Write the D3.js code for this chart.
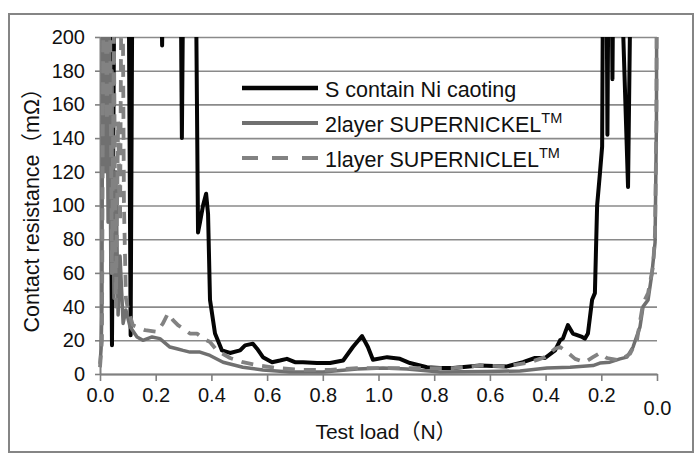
<!DOCTYPE html>
<html>
<head>
<meta charset="utf-8">
<script src="https://cdn.jsdelivr.net/npm/d3@7"></script>
<style>
  body { margin: 0; background: #fff; }
  text { font-family: "Liberation Sans", Arial, "Noto Sans CJK JP", sans-serif; fill: #111; }
</style>
</head>
<body>
<div id="chart"></div>
<script>
// x runs over one load/unload cycle: 0 -> 1 is loading up to 1.0 N, 1 -> 2 unloading back to 0
const xTicks = [0, 0.2, 0.4, 0.6, 0.8, 1.0, 1.2, 1.4, 1.6, 1.8, 2.0];
const xTickLabels = ["0.0", "0.2", "0.4", "0.6", "0.8", "1.0", "0.8", "0.6", "0.4", "0.2", "0.0"];
const yTicks = [0, 20, 40, 60, 80, 100, 120, 140, 160, 180, 200];

const seriesNames = ["S contain Ni caoting", "2layer SUPERNICKEL", "1layer SUPERNICLEL"];

// S contain Ni coating (values above 200 run off the top of the plot)
const niCycle = [0, 0.032, 0.043, 0.054, 0.101, 0.110, 0.118, 0.215, 0.223, 0.230, 0.287, 0.294, 0.302,
  0.341, 0.352, 0.359, 0.370, 0.381, 0.388, 0.395, 0.413, 0.438, 0.467, 0.503, 0.521, 0.549, 0.564,
  0.585, 0.618, 0.646, 0.671, 0.700, 0.729, 0.779, 0.826, 0.873, 0.908, 0.941, 0.962, 0.980, 1.031,
  1.077, 1.113, 1.174, 1.221, 1.268, 1.364, 1.461, 1.519, 1.562, 1.598, 1.634, 1.652, 1.662, 1.680,
  1.698, 1.731, 1.741, 1.752, 1.767, 1.777, 1.785, 1.795, 1.803, 1.808, 1.817, 1.822, 1.828, 1.835,
  1.840, 1.846, 1.860, 1.896, 1.910, 2.0];
const niRes = [300, 300, 17, 300, 300, 23, 300, 300, 195, 300, 300, 140, 300,
  300, 84, 90, 100, 107, 95, 44, 24, 14, 12.5, 14, 17, 18, 15,
  10, 7, 8, 9, 7, 7, 6.5, 6.5, 8, 16, 22.5, 16, 8.5, 10,
  9, 6.5, 4, 3.5, 3.5, 5, 4.5, 7, 9.5, 9.5, 14, 20, 21, 29,
  24, 22, 21, 24, 44, 48, 100, 119, 135, 300, 300, 142, 300, 300,
  175, 300, 300, 111, 300, 300];

// 2layer SUPERNICKEL
const twoCycle = [0, 0.004, 0.007, 0.011, 0.018, 0.022, 0.029, 0.032, 0.039, 0.043, 0.050, 0.057,
  0.065, 0.072, 0.083, 0.093, 0.108, 0.133, 0.154, 0.187, 0.215, 0.251, 0.276, 0.298, 0.323, 0.359,
  0.395, 0.442, 0.513, 0.585, 0.682, 0.801, 0.923, 1.016, 1.102, 1.221, 1.390, 1.508, 1.605, 1.688,
  1.770, 1.795, 1.831, 1.867, 1.892, 1.914, 1.939, 1.950, 1.968, 1.982, 1.993, 1.998, 2.0];
const twoRes = [6, 15, 40, 300, 120, 300, 90, 250, 60, 180, 45, 120,
  35, 70, 30, 38, 28, 22, 20, 22, 21, 16, 15, 14, 13, 13,
  11, 7, 4, 2.4, 1.2, 1.2, 3, 3.5, 3, 1.2, 1.5, 1.8, 3.5, 4,
  5, 6.5, 7, 9, 10, 16, 28, 40, 44, 60, 78, 150, 300];

// 1layer SUPERNICLEL
const oneCycle = [0, 0.007, 0.014, 0.025, 0.032, 0.043, 0.050, 0.057, 0.065, 0.072, 0.079, 0.086,
  0.093, 0.101, 0.118, 0.162, 0.205, 0.226, 0.244, 0.262, 0.280, 0.298, 0.323, 0.348, 0.370, 0.395,
  0.420, 0.467, 0.513, 0.564, 0.636, 0.729, 0.826, 0.923, 1.005, 1.102, 1.221, 1.268, 1.364, 1.461,
  1.544, 1.598, 1.634, 1.652, 1.677, 1.706, 1.741, 1.770, 1.795, 1.820, 1.867, 1.903, 1.928, 1.950,
  1.968, 1.986, 1.993, 1.998, 2.0];
const oneRes = [4, 20, 300, 150, 300, 60, 200, 40, 150, 90, 300, 100,
  45, 38, 29, 26, 25, 30, 36, 32, 29, 27, 24, 24, 21, 19,
  14, 9.5, 7, 5.3, 3.5, 2.4, 2.4, 3.5, 3.5, 3.5, 3.5, 3.5, 5, 4.5,
  7, 10, 15, 16, 13, 9, 7, 10, 12.5, 9.5, 8, 12, 20, 42,
  48, 64, 84, 150, 300];

// Declare the chart dimensions and margins.
const width = 699;
const height = 462;
const marginTop = 37;
const marginRight = 42;
const marginBottom = 88;
const marginLeft = 100;

const x = d3.scaleLinear([0, 2], [marginLeft, width - marginRight]);
const y = d3.scaleLinear([0, 200], [height - marginBottom, marginTop]);

const svg = d3.create("svg")
    .attr("width", width)
    .attr("height", height);

// outer frame
svg.append("rect")
    .attr("x", 9).attr("y", 14)
    .attr("width", 684).attr("height", 438)
    .attr("fill", "none")
    .attr("stroke", "#858585")
    .attr("stroke-width", 2);

// horizontal grid
const grid = svg.append("g")
    .attr("transform", `translate(${marginLeft},0)`)
    .call(d3.axisRight(y).tickValues(yTicks).tickSizeInner(width - marginLeft - marginRight).tickSizeOuter(0));
grid.select(".domain").remove();
grid.selectAll(".tick text").remove();
grid.selectAll(".tick line").attr("stroke", "#8a8a8a").attr("stroke-width", 1.6);

// y axis
const yAxis = svg.append("g")
    .attr("transform", `translate(${marginLeft},0)`)
    .call(d3.axisLeft(y).tickValues(yTicks).tickSizeInner(5).tickSizeOuter(0).tickPadding(10));
yAxis.select(".domain").attr("stroke", "#808080").attr("stroke-width", 2);
yAxis.selectAll(".tick line").attr("stroke", "#808080").attr("stroke-width", 1.6);
yAxis.selectAll(".tick text")
    .attr("font-size", 20)
    .attr("font-family", "Liberation Sans, Arial, sans-serif")
    .attr("fill", "#111");

// x axis
const xAxis = svg.append("g")
    .attr("transform", `translate(0,${height - marginBottom})`)
    .call(d3.axisBottom(x).tickValues(xTicks).tickFormat((d, i) => xTickLabels[i])
        .tickSizeInner(7).tickSizeOuter(0).tickPadding(7));
xAxis.select(".domain").attr("stroke", "#808080").attr("stroke-width", 2);
xAxis.selectAll(".tick line").attr("stroke", "#808080").attr("stroke-width", 1.6);
xAxis.selectAll(".tick text")
    .attr("font-size", 20)
    .attr("font-family", "Liberation Sans, Arial, sans-serif")
    .attr("fill", "#111");
// the last label sits lower than the others
xAxis.selectAll(".tick text").filter((d, i) => i === xTicks.length - 1)
    .attr("y", 27);

// data lines, clipped to the plot area
svg.append("clipPath").attr("id", "plot-clip")
  .append("rect")
    .attr("x", marginLeft - 3)
    .attr("y", marginTop)
    .attr("width", width - marginLeft - marginRight + 6)
    .attr("height", height - marginTop - marginBottom + 3);

const line = d3.line()
    .x(d => x(d[0]))
    .y(d => y(d[1]));

const plot = svg.append("g").attr("clip-path", "url(#plot-clip)");

plot.append("path")
    .attr("d", line(d3.zip(niCycle, niRes)))
    .attr("fill", "none")
    .attr("stroke", "#050505")
    .attr("stroke-width", 4)
    .attr("stroke-linejoin", "round");

plot.append("path")
    .attr("d", line(d3.zip(twoCycle, twoRes)))
    .attr("fill", "none")
    .attr("stroke", "#707070")
    .attr("stroke-width", 3.5)
    .attr("stroke-linejoin", "round");

plot.append("path")
    .attr("d", line(d3.zip(oneCycle, oneRes)))
    .attr("fill", "none")
    .attr("stroke", "#828282")
    .attr("stroke-width", 3.8)
    .attr("stroke-dasharray", "12,9")
    .attr("stroke-linejoin", "round");

// legend
const legendStyles = [
  {stroke: "#050505", width: 4.5, dash: null},
  {stroke: "#707070", width: 3.8, dash: null},
  {stroke: "#828282", width: 4.2, dash: "16,14"}
];
const legend = svg.append("g");
seriesNames.forEach((name, i) => {
  const yy = 97 + i * 35;
  legend.append("line")
      .attr("x1", 242).attr("x2", 318)
      .attr("y1", yy - 9).attr("y2", yy - 9)
      .attr("stroke", legendStyles[i].stroke)
      .attr("stroke-width", legendStyles[i].width)
      .attr("stroke-dasharray", legendStyles[i].dash);
  const t = legend.append("text")
      .attr("x", 325).attr("y", yy)
      .attr("font-size", 21.5)
      .text(name);
  if (i > 0) {
    t.append("tspan").attr("font-size", 14.5).attr("dy", -9).text("TM");
  }
});

// axis titles
svg.append("text")
    .attr("transform", "rotate(-90)")
    .attr("x", -205)
    .attr("y", 39)
    .attr("text-anchor", "middle")
    .attr("font-size", 21.5)
    .text("Contact resistance（mΩ）");

svg.append("text")
    .attr("x", 386)
    .attr("y", 439)
    .attr("text-anchor", "middle")
    .attr("font-size", 21)
    .text("Test load（N）");

d3.select("#chart").append(() => svg.node());
</script>
</body>
</html>
